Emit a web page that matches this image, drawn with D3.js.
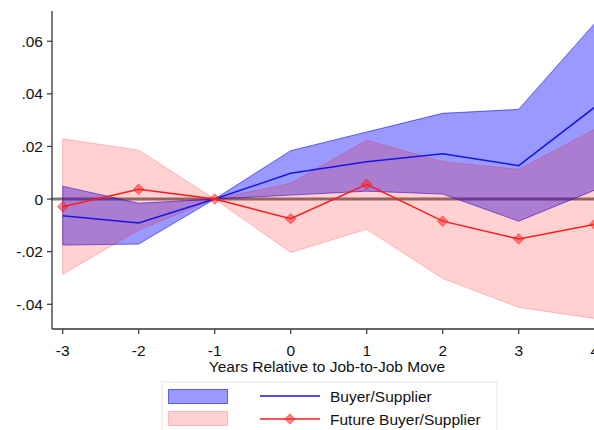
<!DOCTYPE html>
<html>
<head>
<meta charset="utf-8">
<script src="https://cdn.jsdelivr.net/npm/d3@7"></script>
<style>
  html, body { margin: 0; padding: 0; background: #fff; }
  svg { display: block; font-family: "Liberation Sans", Arial, sans-serif; }
</style>
</head>
<body>
<svg id="chart" width="594" height="430"></svg>
<script>
// Event-time coefficients with 95% confidence bands
const years = [-3, -2, -1, 0, 1, 2, 3, 4];

const buyerEst   = [-0.0063, -0.0091, 0, 0.0098, 0.0142, 0.0172, 0.0127, 0.0349];
const buyerHi    = [ 0.0049, -0.0016, 0, 0.0184, 0.0255, 0.0326, 0.0341, 0.0668];
const buyerLo    = [-0.0175, -0.0171, 0, 0.0015, 0.0030, 0.0019, -0.0084, 0.0034];

const futureEst  = [-0.0029,  0.0037, 0, -0.0075, 0.0056, -0.0084, -0.0152, -0.0096];
const futureHi   = [ 0.0229,  0.0186, 0, 0.0060, 0.0224, 0.0142, 0.0113, 0.0265];
const futureLo   = [-0.0286, -0.0118, 0, -0.0203, -0.0115, -0.0302, -0.0412, -0.0454];

const yTicks      = [-0.04, -0.02, 0, 0.02, 0.04, 0.06];
const yTickLabels = ["-.04", "-.02", "0", ".02", ".04", ".06"];
const xTicks      = [-3, -2, -1, 0, 1, 2, 3, 4];
const xTickLabels = ["-3", "-2", "-1", "0", "1", "2", "3", "4"];

const svg = d3.select("#chart");
const fs = 15.5;

const x = d3.scaleLinear().domain([-3, 4]).range([62.7, 594.7]);
const y = d3.scaleLinear().domain([-0.0494, 0.0715]).range([329, 11]);

const axisLeftX = 52, axisBottomY = 329;

const rows = years.map((yr, i) => ({
  yr, be: buyerEst[i], bh: buyerHi[i], bl: buyerLo[i],
  fe: futureEst[i], fh: futureHi[i], fl: futureLo[i]
}));

// zero reference line
svg.append("line")
  .attr("x1", axisLeftX).attr("x2", 594)
  .attr("y1", y(0)).attr("y2", y(0))
  .attr("stroke", "#807878").attr("stroke-width", 3);

// confidence bands
const area = (lo, hi) => d3.area().x(d => x(d.yr)).y0(d => y(d[lo])).y1(d => y(d[hi]));

svg.append("path").datum(rows)
  .attr("d", area("bl", "bh"))
  .attr("fill", "rgba(0,0,255,0.4)")
  .attr("stroke", "rgba(0,0,230,0.55)").attr("stroke-width", 1);

svg.append("path").datum(rows)
  .attr("d", area("fl", "fh"))
  .attr("fill", "rgba(255,0,0,0.18)")
  .attr("stroke", "rgba(255,0,0,0.22)").attr("stroke-width", 1);

// point estimate lines
const line = key => d3.line().x(d => x(d.yr)).y(d => y(d[key]));

svg.append("path").datum(rows)
  .attr("d", line("be"))
  .attr("fill", "none").attr("stroke", "#1515e6").attr("stroke-width", 1.5);

svg.append("path").datum(rows)
  .attr("d", line("fe"))
  .attr("fill", "none").attr("stroke", "#ff1a1a").attr("stroke-width", 1.5);

const diamond = d3.symbol().type(d3.symbolDiamond2).size(70);
svg.selectAll(".mk").data(rows).enter().append("path")
  .attr("class", "mk")
  .attr("d", diamond)
  .attr("transform", d => `translate(${x(d.yr)},${y(d.fe)})`)
  .attr("fill", "rgba(255,40,40,0.55)")
  .attr("stroke", "rgba(230,0,0,0.45)").attr("stroke-width", 1);

// axes
const axisColor = "#333";
svg.append("line")
  .attr("x1", axisLeftX).attr("x2", axisLeftX)
  .attr("y1", 11).attr("y2", axisBottomY)
  .attr("stroke", axisColor).attr("stroke-width", 1.3);
svg.append("line")
  .attr("x1", axisLeftX).attr("x2", 594)
  .attr("y1", axisBottomY).attr("y2", axisBottomY)
  .attr("stroke", axisColor).attr("stroke-width", 1.3);

yTicks.forEach((t, i) => {
  svg.append("line")
    .attr("x1", axisLeftX - 5).attr("x2", axisLeftX)
    .attr("y1", y(t)).attr("y2", y(t))
    .attr("stroke", axisColor).attr("stroke-width", 1.2);
  svg.append("text")
    .attr("x", axisLeftX - 9).attr("y", y(t) + 5.5)
    .attr("text-anchor", "end").attr("font-size", fs).attr("fill", "#111")
    .text(yTickLabels[i]);
});

xTicks.forEach((t, i) => {
  svg.append("line")
    .attr("x1", x(t)).attr("x2", x(t))
    .attr("y1", axisBottomY).attr("y2", axisBottomY + 5)
    .attr("stroke", axisColor).attr("stroke-width", 1.2);
  svg.append("text")
    .attr("x", x(t)).attr("y", 355.5)
    .attr("text-anchor", "middle").attr("font-size", fs).attr("fill", "#111")
    .text(xTickLabels[i]);
});

svg.append("text")
  .attr("x", 327).attr("y", 371.5)
  .attr("text-anchor", "middle").attr("font-size", fs).attr("fill", "#111")
  .text("Years Relative to Job-to-Job Move");

// legend
const lg = svg.append("g");
lg.append("rect")
  .attr("x", 162).attr("y", 382).attr("width", 335).attr("height", 60)
  .attr("fill", "#fff").attr("stroke", "#e6e6e6").attr("stroke-width", 1);

lg.append("rect")
  .attr("x", 168.5).attr("y", 389.5).attr("width", 59).attr("height", 14)
  .attr("fill", "rgba(0,0,255,0.4)").attr("stroke", "rgba(0,0,230,0.55)");
lg.append("rect")
  .attr("x", 168.5).attr("y", 411.5).attr("width", 59).attr("height", 14)
  .attr("fill", "rgba(255,0,0,0.18)").attr("stroke", "rgba(255,0,0,0.22)");

lg.append("line")
  .attr("x1", 260).attr("x2", 320).attr("y1", 396).attr("y2", 396)
  .attr("stroke", "#1515e6").attr("stroke-width", 1.5);
lg.append("line")
  .attr("x1", 260).attr("x2", 320).attr("y1", 419).attr("y2", 419)
  .attr("stroke", "#ff1a1a").attr("stroke-width", 1.5);
lg.append("path")
  .attr("d", diamond)
  .attr("transform", "translate(290,419)")
  .attr("fill", "rgba(255,40,40,0.55)")
  .attr("stroke", "rgba(230,0,0,0.45)");

lg.append("text").attr("x", 330).attr("y", 401.5)
  .attr("font-size", fs).attr("fill", "#111").text("Buyer/Supplier");
lg.append("text").attr("x", 330).attr("y", 424.5)
  .attr("font-size", fs).attr("fill", "#111").text("Future Buyer/Supplier");
</script>
</body>
</html>
